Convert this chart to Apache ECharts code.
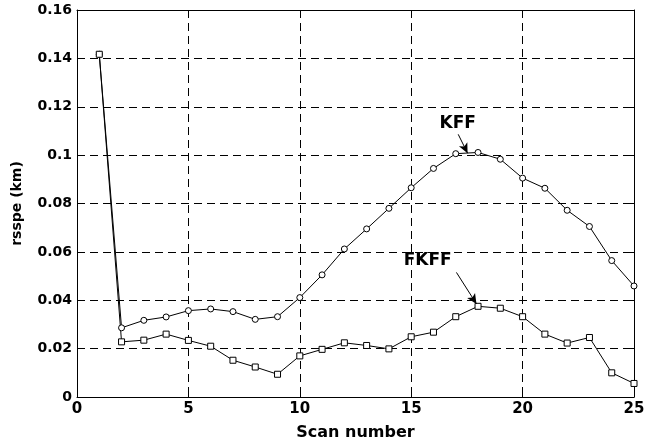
<!DOCTYPE html>
<html>
<head>
<meta charset="utf-8">
<script src="https://cdn.jsdelivr.net/npm/echarts@6/dist/echarts.min.js"></script>
<style>
  html, body { margin: 0; padding: 0; background: #fff; }
  #chart { width: 655px; height: 442px; }
</style>
</head>
<body>
<div id="chart"></div>
<script>
// Scan index along the horizontal axis
const scans = [1, 2, 3, 4, 5, 6, 7, 8, 9, 10, 11, 12, 13, 14, 15, 16, 17, 18, 19, 20, 21, 22, 23, 24, 25];

// rsspe (km) per scan, KFF filter (circles)
const kff = [0.1417, 0.0286, 0.0317, 0.0331, 0.0357, 0.0364, 0.0353, 0.0321, 0.0332, 0.0411,
             0.0505, 0.0612, 0.0695, 0.0780, 0.0865, 0.0945, 0.1006, 0.1011, 0.0983, 0.0905,
             0.0863, 0.0772, 0.0705, 0.0564, 0.0459];

// rsspe (km) per scan, FKFF filter (squares)
const fkff = [0.1417, 0.0228, 0.0235, 0.0260, 0.0234, 0.0210, 0.0152, 0.0124, 0.0094, 0.0170,
              0.0197, 0.0224, 0.0213, 0.0199, 0.0249, 0.0268, 0.0332, 0.0375, 0.0367, 0.0332,
              0.0260, 0.0223, 0.0246, 0.0100, 0.0056];

// Callout labels: text anchor and arrow from/to, in data coordinates
const kffNote = { text: 'KFF', at: [17.09, 0.1132], from: [17.11, 0.1086], to: [17.53, 0.1008] };
const fkffNote = { text: 'FKFF', at: [15.74, 0.0563], from: [17.03, 0.0515], to: [17.93, 0.0385] };

const FONT = 'DejaVu Sans';

const chart = echarts.init(document.getElementById('chart'), null, { renderer: 'canvas' });

function pairs(ys) { return scans.map((s, i) => [s, ys[i]]); }

function arrowLine(note) {
  return {
    silent: true,
    symbol: ['none', 'arrow'],
    symbolSize: [7, 10],
    label: { show: false },
    lineStyle: { color: '#000', width: 1, type: 'solid' },
    emphasis: { disabled: true },
    data: [[{ coord: note.from }, { coord: note.to }]]
  };
}

const frameAxis = {
  axisLine: { show: true, onZero: false, lineStyle: { color: '#000', width: 1 } },
  axisTick: { show: true, inside: true, length: 5, lineStyle: { color: '#000' } },
  axisLabel: { show: false },
  splitLine: { show: false }
};

chart.setOption({
  animation: false,
  backgroundColor: '#fff',
  grid: { left: 77, right: 21, top: 10, bottom: 45, containLabel: false, outerBoundsMode: 'none' },
  xAxis: [
    {
      type: 'value', min: 0, max: 25, interval: 5, position: 'bottom',
      name: 'Scan number', nameLocation: 'middle', nameGap: 28,
      nameTextStyle: { fontFamily: FONT, fontWeight: 'bold', fontSize: 16, color: '#000' },
      axisLine: { show: true, onZero: false, lineStyle: { color: '#000', width: 1 } },
      axisTick: { show: true, inside: true, length: 5, lineStyle: { color: '#000' } },
      axisLabel: { fontFamily: FONT, fontWeight: 'bold', fontSize: 15, color: '#000', margin: 5 },
      splitLine: { show: true, lineStyle: { color: '#000', width: 1, type: [8, 5] } }
    },
    Object.assign({ type: 'value', min: 0, max: 25, interval: 5, position: 'top' }, frameAxis)
  ],
  yAxis: [
    {
      type: 'value', min: 0, max: 0.16, interval: 0.02, position: 'left',
      name: 'rsspe (km)', nameLocation: 'middle', nameGap: 53,
      nameTextStyle: { fontFamily: FONT, fontWeight: 'bold', fontSize: 14, color: '#000' },
      axisLine: { show: true, onZero: false, lineStyle: { color: '#000', width: 1 } },
      axisTick: { show: true, inside: true, length: 5, lineStyle: { color: '#000' } },
      axisLabel: {
        fontFamily: FONT, fontWeight: 'bold', fontSize: 14, color: '#000', margin: 5,
        formatter: v => String(+v.toFixed(2))
      },
      splitLine: { show: true, lineStyle: { color: '#000', width: 1, type: [8, 5] } }
    },
    Object.assign({ type: 'value', min: 0, max: 0.16, interval: 0.02, position: 'right' }, frameAxis)
  ],
  series: [
    {
      name: 'KFF', type: 'line', data: pairs(kff),
      symbol: 'circle', symbolSize: 6, showAllSymbol: true,
      lineStyle: { color: '#000', width: 1 },
      itemStyle: { color: '#fff', borderColor: '#000', borderWidth: 1 },
      emphasis: { disabled: true },
      markLine: arrowLine(kffNote),
      z: 3
    },
    {
      name: 'FKFF', type: 'line', data: pairs(fkff),
      symbol: 'rect', symbolSize: 6, showAllSymbol: true,
      lineStyle: { color: '#000', width: 1 },
      itemStyle: { color: '#fff', borderColor: '#000', borderWidth: 1 },
      emphasis: { disabled: true },
      markLine: arrowLine(fkffNote),
      z: 3
    }
  ]
});

// Callout texts positioned through the chart's own coordinate system
function noteText(note) {
  const p = chart.convertToPixel({ gridIndex: 0 }, note.at);
  return {
    type: 'text', x: p[0], y: p[1], z: 10,
    style: {
      text: note.text, fontFamily: FONT, fontWeight: 'bold', fontSize: 17,
      fill: '#000', align: 'center', verticalAlign: 'middle'
    }
  };
}
chart.setOption({ graphic: [noteText(kffNote), noteText(fkffNote)] });
</script>
</body>
</html>
